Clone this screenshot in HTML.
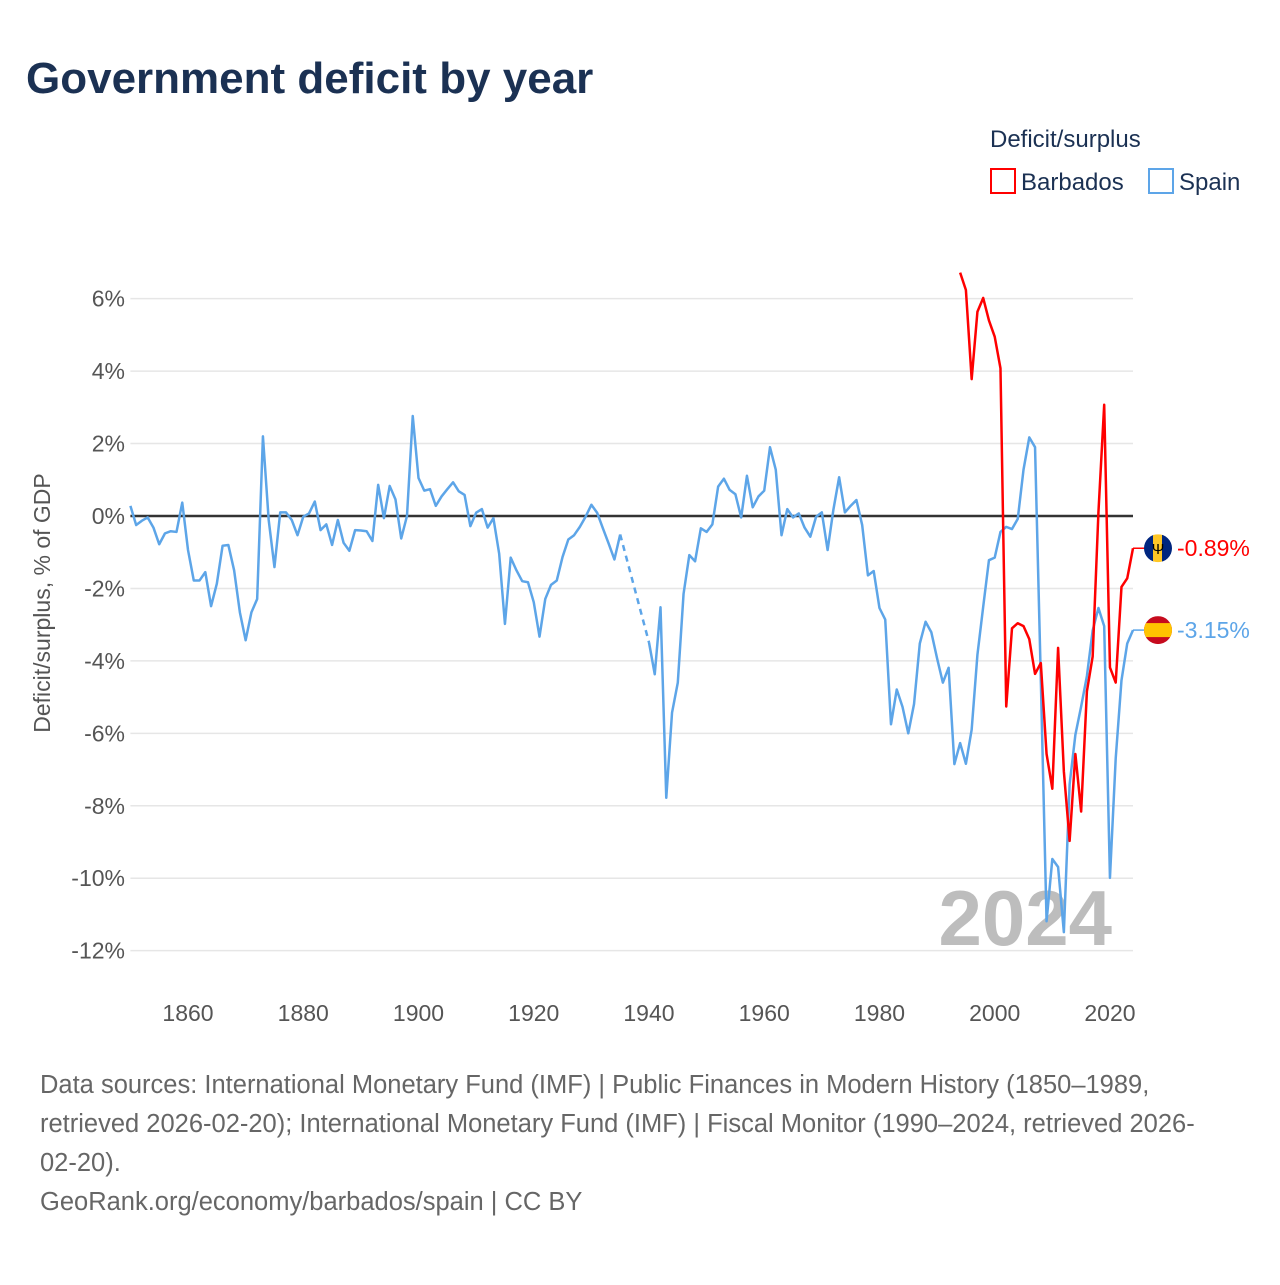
<!DOCTYPE html>
<html><head><meta charset="utf-8"><style>
body{margin:0;background:#fff;width:1280px;height:1280px;overflow:hidden;font-family:"Liberation Sans",sans-serif}
</style></head><body>
<svg id="chart" width="1280" height="1280" xmlns="http://www.w3.org/2000/svg">
<text x="26" y="93" font-size="44" font-weight="bold" fill="#1b3153">Government deficit by year</text>
<text x="990" y="147" font-size="24" fill="#1b3153">Deficit/surplus</text>
<g><rect x="991" y="169" width="24" height="24" fill="none" stroke="#f00" stroke-width="2"/><text x="1021" y="190" font-size="24" fill="#1b3153">Barbados</text></g>
<g><rect x="1149" y="169" width="24" height="24" fill="none" stroke="#5da5e8" stroke-width="2"/><text x="1179" y="190" font-size="24" fill="#1b3153">Spain</text></g>
<text transform="translate(50,603) rotate(-90)" text-anchor="middle" font-size="23" fill="#555">Deficit/surplus, % of GDP</text>
<g id="grid"></g><g id="xt"></g>
<text x="1112" y="945" text-anchor="end" font-size="78" font-weight="bold" fill="#bdbdbd">2024</text>
<g id="lines"></g>
<g id="ends"></g>
<g font-size="25.5" fill="#666">
<text x="40" y="1093">Data sources: International Monetary Fund (IMF) | Public Finances in Modern History (1850–1989,</text>
<text x="40" y="1132">retrieved 2026-02-20); International Monetary Fund (IMF) | Fiscal Monitor (1990–2024, retrieved 2026-</text>
<text x="40" y="1171">02-20).</text>
<text x="40" y="1210">GeoRank.org/economy/barbados/spain | CC BY</text>
</g>
</svg>
<script>
const yTicks=[6,4,2,0,-2,-4,-6,-8,-10,-12];
const xTicks=[1860,1880,1900,1920,1940,1960,1980,2000,2020];
const spainStart=1850;
const spainValues=[0.28,-0.25,-0.13,-0.04,-0.32,-0.78,-0.48,-0.42,-0.44,0.37,-0.94,-1.78,-1.78,-1.55,-2.49,-1.87,-0.82,-0.8,-1.5,-2.66,-3.43,-2.66,-2.29,2.2,-0.11,-1.41,0.1,0.1,-0.11,-0.53,-0.02,0.07,0.4,-0.39,-0.23,-0.8,-0.11,-0.74,-0.96,-0.39,-0.4,-0.42,-0.69,0.86,-0.06,0.83,0.46,-0.62,0,2.76,1.05,0.7,0.74,0.28,0.54,0.74,0.93,0.68,0.58,-0.28,0.09,0.19,-0.32,-0.06,-1.04,-2.98,-1.15,-1.5,-1.8,-1.83,-2.38,-3.33,-2.29,-1.9,-1.78,-1.13,-0.65,-0.53,-0.3,-0.02,0.31,0.09,-0.34,-0.76,-1.2,-0.51,null,null,null,null,-3.49,-4.37,-2.52,-7.78,-5.43,-4.6,-2.15,-1.08,-1.25,-0.34,-0.44,-0.23,0.81,1.03,0.72,0.6,-0.04,1.11,0.24,0.54,0.7,1.9,1.28,-0.53,0.19,-0.04,0.07,-0.32,-0.57,-0.02,0.1,-0.94,0.17,1.07,0.1,0.28,0.44,-0.25,-1.64,-1.52,-2.54,-2.86,-5.75,-4.79,-5.27,-6.0,-5.19,-3.52,-2.92,-3.21,-3.93,-4.6,-4.19,-6.85,-6.27,-6.84,-5.9,-3.83,-2.51,-1.22,-1.15,-0.44,-0.3,-0.36,-0.08,1.28,2.17,1.9,-4.5,-11.19,-9.47,-9.69,-11.49,-7.41,-6.04,-5.26,-4.42,-3.16,-2.54,-3.04,-9.99,-6.69,-4.54,-3.52,-3.15];
const barbadosStart=1994;
const barbadosValues=[6.72,6.24,3.78,5.64,6.02,5.4,4.95,4.08,-5.26,-3.1,-2.96,-3.04,-3.4,-4.36,-4.06,-6.57,-7.53,-3.64,-7.05,-8.97,-6.57,-8.16,-4.84,-3.88,0.1,3.07,-4.18,-4.6,-1.96,-1.72,-0.89];
const NS="http://www.w3.org/2000/svg";
const X0=130.4,X1=1133,Y0=516,PY=36.22;
const xs=y=>X0+(y-1850)*(X1-X0)/174;
const ys=v=>Y0-v*PY;
function mk(tag,attrs,parent){const e=document.createElementNS(NS,tag);for(const k in attrs)e.setAttribute(k,attrs[k]);parent.appendChild(e);return e;}
const grid=document.getElementById('grid');
yTicks.forEach(t=>{
  const l=mk('line',{x1:X0,x2:X1,y1:ys(t),y2:ys(t),stroke:t===0?'#333':'#e6e6e6','stroke-width':t===0?2.5:1.5},grid);
  
  
  const tx=mk('text',{x:125,y:ys(t)+8,'text-anchor':'end','font-size':23,fill:'#555'},grid);
  tx.textContent=t+'%';
  
  
});
const xt=document.getElementById('xt');
xTicks.forEach(t=>{
  const tx=mk('text',{x:xs(t),y:1021,'text-anchor':'middle','font-size':23,fill:'#555'},xt);
  tx.textContent=t;
  
  
});
const lines=document.getElementById('lines');
function series(start,vals,color,name){
  let segs=[],cur=[];
  vals.forEach((v,i)=>{if(v===null){if(cur.length)segs.push(cur);cur=[];}else cur.push([xs(start+i),ys(v)]);});
  if(cur.length)segs.push(cur);
  segs.forEach(s=>{
    const p=mk('polyline',{points:s.map(q=>q.join(',')).join(' '),fill:'none',stroke:color,'stroke-width':2.5,'stroke-linejoin':'round'},lines);
    
    
  });
  for(let i=1;i<segs.length;i++){
    const a=segs[i-1][segs[i-1].length-1],b=segs[i][0];
    const d=mk('line',{x1:a[0],y1:a[1],x2:b[0],y2:b[1],stroke:color,'stroke-width':2.5,'stroke-dasharray':'6,5'},lines);
    
    
  }
}
series(spainStart,spainValues,'#5da5e8','spain');
series(barbadosStart,barbadosValues,'#f00','barbados');
const ends=document.getElementById('ends');
function endLabel(v,color,name,flag){
  const y=ys(v);
  const l=mk('line',{x1:X1,x2:1145,y1:y,y2:y,stroke:color,'stroke-width':1.5},ends);
  
  
  const g=mk('g',{},ends);
  
  
  g.innerHTML=flag(1158,y);
  const t=mk('text',{x:1177,y:y+8,'font-size':23,fill:color},ends);
  t.textContent=v.toFixed(2)+'%';
  
  
}
endLabel(barbadosValues[barbadosValues.length-1],'#f00','barbados',(x,y)=>`<clipPath id="cb"><circle cx="${x}" cy="${y}" r="14"/></clipPath><g clip-path="url(#cb)"><rect x="${x-14}" y="${y-14}" width="10" height="28" fill="#00267f"/><rect x="${x-5}" y="${y-14}" width="10" height="28" fill="#ffc726"/><rect x="${x+4}" y="${y-14}" width="10" height="28" fill="#00267f"/></g><text x="${x}" y="${y+6}" font-size="15" text-anchor="middle" fill="#000">Ψ</text>`);
endLabel(spainValues[spainValues.length-1],'#5da5e8','spain',(x,y)=>`<clipPath id="cs"><circle cx="${x}" cy="${y}" r="14"/></clipPath><g clip-path="url(#cs)"><rect x="${x-14}" y="${y-14}" width="28" height="28" fill="#c60b1e"/><rect x="${x-14}" y="${y-7}" width="28" height="14" fill="#ffc400"/></g>`);
</script>
</body></html>
